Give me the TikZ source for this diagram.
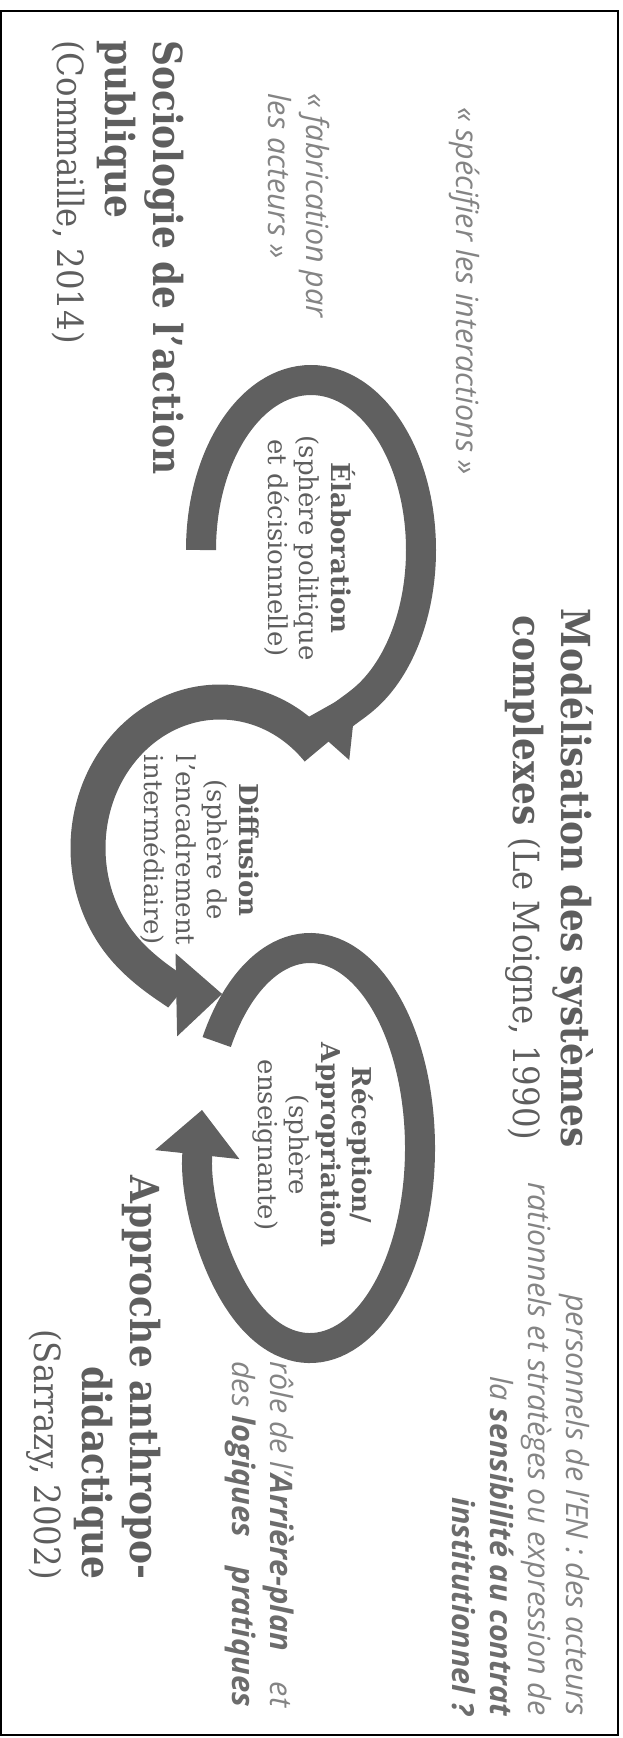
\documentclass[tikz,border=0pt]{standalone}
\usepackage{fontspec}
\setmainfont{DejaVu Serif Condensed}
\newfontfamily\phasefont{DejaVu Serif}
\newfontfamily\notefont{Open Sans}
\usetikzlibrary{arrows.meta}
\definecolor{loopgray}{RGB}{96,96,96}
\definecolor{headgray}{RGB}{94,94,94}
\definecolor{notegray}{RGB}{132,132,132}
\definecolor{stronggray}{RGB}{108,108,108}
\newcommand{\emphgray}[1]{\textcolor{stronggray}{\bfseries #1}}
\newcommand{\emphbig}[1]{{\fontsize{31}{38}\selectfont\emphgray{#1}}}
\newcommand{\citeline}[1]{{\fontsize{36}{48}\selectfont #1}}

\begin{document}
\begin{tikzpicture}[
  x=1pt, y=1pt,
  loop/.style={draw=loopgray, line width=30pt},
  title/.style={rotate=-90, inner sep=0pt, text=headgray, font=\fontsize{40}{48}\selectfont},
  phase/.style={rotate=-90, inner sep=0pt, align=center, text=headgray, font=\phasefont\fontsize{26}{31.5}\selectfont},
  note/.style={rotate=-90, inner sep=0pt, text=notegray, font=\notefont\itshape\fontsize{30.5}{38}\selectfont}
]
\useasboundingbox (0,0) rectangle (623,-1738);
\draw[line width=2pt] (1,-10.5) rectangle (617.5,-1735);

\coordinate (c1) at (311,-550);
\coordinate (c2) at (220,-848);
\coordinate (c3) at (310,-1148);
\draw[loop, -{Triangle[length=50pt, width=67pt]}] ([shift={(180:110 and 170)}]c1)
  arc[start angle=180, end angle=-94, x radius=110, y radius=170];
\draw[loop, line width=35pt, -{Triangle[length=46pt, width=80pt]}] ([shift={(42:132 and 146)}]c2)
  arc[start angle=42, end angle=271, x radius=132, y radius=146];
\draw[loop, -{Triangle[length=45pt, width=82pt]}] ([shift={(148:110 and 200)}]c3)
  arc[start angle=148, end angle=-191, x radius=110, y radius=200];

\node[phase] (elab) at (310,-548) {\textbf{Élaboration}\\(sphère politique\\et décisionnelle)};
\node[phase] (diff) at (200,-850) {\textbf{Diffusion}\\(sphère de\\l’encadrement\\intermédiaire)};
\node[phase] (recep) at (313,-1145) {\textbf{Réception/}\\\textbf{Appropriation}\\(sphère\\enseignante)};

\node[title, anchor=north, align=center] (model) at (594,-878)
  {\textbf{Modélisation des systèmes}\\\textbf{complexes} \citeline{(Le Moigne, 1990)}};
\node[title, anchor=north west, align=left] (socio) at (184,-40)
  {\textbf{Sociologie de l’action}\\\textbf{publique}\\\citeline{(Commaille, 2014)}};
\node[title, anchor=north east, align=right] (anthro) at (161,-1580)
  {\textbf{Approche anthropo-}\\\textbf{didactique}\\\citeline{(Sarrazy, 2002)}};

\node[note, anchor=north west] (specify) at (480,-107) {«~spécifier les interactions~»};
\node[note, anchor=north west, align=left] (fabric) at (330,-93) {«~fabrication par\\les acteurs~»};
\node[note, anchor=north east, align=right] (actors) at (590,-1716)
  {personnels de l’EN : des acteurs\\rationnels et stratèges ou expression de\\la \emphgray{sensibilité au contrat}\\\emphgray{institutionnel ?}};
\node[note, anchor=north west, align=left] (backdrop) at (294,-1361)
  {\makebox[346pt][l]{rôle de l’\emphbig{Arrière-plan}\hfill\ et}\\\makebox[346pt][l]{des \emphbig{logiques}\hfill\ \emphbig{pratiques}}};
\end{tikzpicture}
\end{document}
